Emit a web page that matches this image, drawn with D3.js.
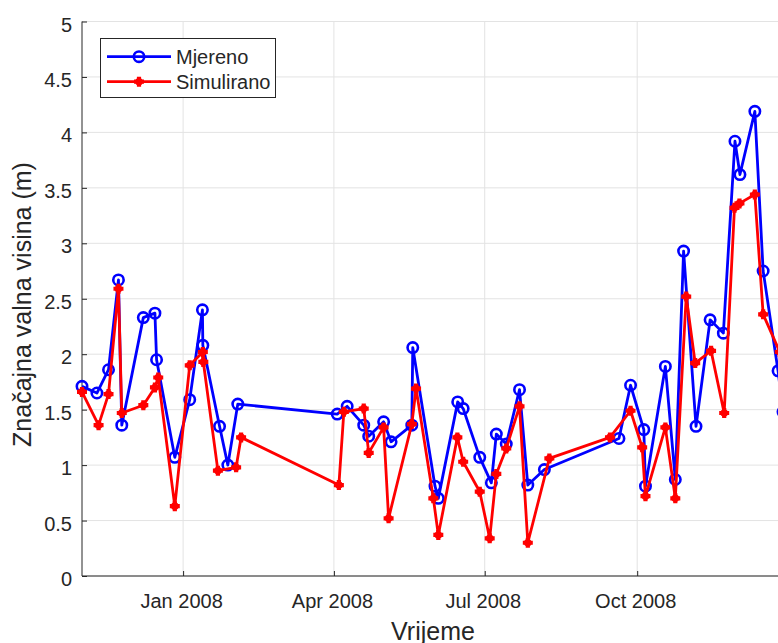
<!DOCTYPE html>
<html>
<head>
<meta charset="utf-8">
<script src="https://cdn.jsdelivr.net/npm/d3@7"></script>
<style>
  html, body { margin: 0; padding: 0; background: #fff; overflow: hidden; }
  text { font-family: "Liberation Sans", Arial, Helvetica, sans-serif; fill: #262626; }
</style>
</head>
<body>
<svg id="chart" width="778" height="643"></svg>
<script>
// ---- data ----
const measuredDates = [
  "2007-11-01","2007-11-10","2007-11-17","2007-11-23","2007-11-25","2007-12-08","2007-12-15","2007-12-16",
  "2007-12-27","2008-01-05","2008-01-12T16:00","2008-01-12T22:00","2008-01-23","2008-01-28","2008-02-03",
  "2008-04-03","2008-04-09","2008-04-19","2008-04-22","2008-05-01","2008-05-05T12:00","2008-05-18","2008-05-18T14:00",
  "2008-06-01","2008-06-03","2008-06-14T17:00","2008-06-18","2008-06-28","2008-07-05","2008-07-08","2008-07-14",
  "2008-07-22","2008-07-27","2008-08-06","2008-09-20","2008-09-27","2008-10-05","2008-10-06","2008-10-18",
  "2008-10-24","2008-10-29","2008-11-05T12:00","2008-11-14","2008-11-22","2008-11-29","2008-12-02","2008-12-11",
  "2008-12-16","2008-12-25","2008-12-28"
];
const measuredValues = [
  1.71,1.65,1.86,2.67,1.36,2.33,2.37,1.95,
  1.07,1.59,2.40,2.08,1.35,1.00,1.55,
  1.46,1.53,1.36,1.26,1.39,1.21,1.36,2.06,
  0.81,0.70,1.57,1.51,1.07,0.84,1.28,1.19,
  1.68,0.82,0.96,1.24,1.72,1.32,0.81,1.89,
  0.87,2.93,1.35,2.31,2.19,3.92,3.62,4.19,
  2.75,1.85,1.48
];
const simulatedDates = [
  "2007-11-01","2007-11-11","2007-11-17","2007-11-23","2007-11-25","2007-12-08","2007-12-15","2007-12-17",
  "2007-12-27","2008-01-05","2008-01-12T22:00","2008-01-13T05:00","2008-01-22","2008-02-02","2008-02-05",
  "2008-04-04","2008-04-07","2008-04-19","2008-04-22","2008-05-01","2008-05-04","2008-05-18","2008-05-20T14:00",
  "2008-05-31","2008-06-03","2008-06-14T12:00","2008-06-18","2008-06-28","2008-07-04","2008-07-08","2008-07-14",
  "2008-07-22","2008-07-27","2008-08-09","2008-09-14T14:00","2008-09-27","2008-10-04","2008-10-06","2008-10-18",
  "2008-10-24","2008-10-30T14:00","2008-11-05","2008-11-14T14:00","2008-11-22T12:00","2008-11-28T17:00","2008-12-01T17:00","2008-12-11",
  "2008-12-16","2008-12-26","2008-12-28"
];
const simulatedValues = [
  1.66,1.36,1.64,2.59,1.47,1.54,1.70,1.79,
  0.63,1.90,2.02,1.93,0.95,0.98,1.25,
  0.82,1.48,1.51,1.11,1.34,0.52,1.37,1.69,
  0.70,0.37,1.25,1.03,0.76,0.34,0.92,1.15,
  1.53,0.30,1.06,1.25,1.49,1.16,0.72,1.34,
  0.70,2.52,1.92,2.03,1.47,3.32,3.36,3.44,
  2.36,2.02,1.61
];
const xTickDates = ["2008-01-01","2008-04-01","2008-07-01","2008-10-01"];
const xTickLabels = ["Jan 2008","Apr 2008","Jul 2008","Oct 2008"];
const yTicks = [0,0.5,1,1.5,2,2.5,3,3.5,4,4.5,5];
const seriesNames = ["Mjereno","Simulirano"];
const xDomain = ["2007-11-01","2008-12-31"];
const yDomain = [0,5];

// ---- layout ----
const parse = s => new Date(s.length > 10 ? s + ":00" : s + "T00:00:00");
const svg = d3.select("#chart");
const plotL = 82, plotR = 788, plotT = 21.5, plotB = 576;
const FONT = '"Liberation Sans", Arial, sans-serif';

const x = d3.scaleTime().domain(xDomain.map(parse)).range([plotL, plotR]);
const y = d3.scaleLinear().domain(yDomain).range([plotB, plotT]);

svg.append("rect").attr("width", 778).attr("height", 643).attr("fill", "#fff");

// grid
const grid = svg.append("g");
grid.selectAll("line.gy").data(yTicks).join("line")
  .attr("x1", plotL).attr("x2", plotR)
  .attr("y1", d => y(d)).attr("y2", d => y(d))
  .attr("stroke", "#e3e3e3").attr("stroke-width", 1);
grid.selectAll("line.gx").data(xTickDates).join("line")
  .attr("x1", d => x(parse(d))).attr("x2", d => x(parse(d)))
  .attr("y1", plotT).attr("y2", plotB)
  .attr("stroke", "#e3e3e3").attr("stroke-width", 1);

// axes
const yAxis = d3.axisLeft(y).tickValues(yTicks).tickSize(-5).tickPadding(10).tickFormat(d => String(d));
const gy = svg.append("g").attr("transform", `translate(${plotL},0)`).call(yAxis);
gy.select(".domain").attr("stroke", "#262626").attr("d", `M0,${plotT}V${plotB}`);
gy.selectAll(".tick line").attr("stroke", "#262626");
gy.selectAll(".tick text").attr("font-size", 20).attr("fill", "#262626")
  .attr("font-family", FONT).attr("dy", "9.5px");

const xAxis = d3.axisBottom(x).tickValues(xTickDates.map(parse)).tickSize(-5).tickPadding(17.5)
  .tickFormat((d, i) => xTickLabels[i]);
const gx = svg.append("g").attr("transform", `translate(0,${plotB})`).call(xAxis);
gx.select(".domain").attr("stroke", "#262626").attr("d", `M${plotL},0H${plotR}`);
gx.selectAll(".tick line").attr("stroke", "#262626");
gx.selectAll(".tick text").attr("font-size", 20).attr("fill", "#262626")
  .attr("font-family", FONT).attr("dx", "-2px");

// axis labels
svg.append("text").attr("x", 433).attr("y", 639.5).attr("text-anchor", "middle")
  .attr("font-size", 25).text("Vrijeme");
svg.append("text").attr("transform", "translate(31,304.5) rotate(-90)").attr("text-anchor", "middle")
  .attr("font-size", 25).text("Značajna valna visina (m)");

// series
const measured = measuredDates.map((d, i) => ({ t: parse(d), v: measuredValues[i] }));
const simulated = simulatedDates.map((d, i) => ({ t: parse(d), v: simulatedValues[i] }));
const line = d3.line().x(d => x(d.t)).y(d => y(d.v));

const blue = "#0000ff", red = "#ff0000";
const crossPath = "M-5,0H5M0,-5V5";

function drawBlue(g, pts) {
  g.selectAll("circle").data(pts).join("circle")
    .attr("cx", d => d[0]).attr("cy", d => d[1]).attr("r", 5.2)
    .attr("fill", "none").attr("stroke", blue).attr("stroke-width", 2.6);
}
function drawRed(g, pts) {
  const m = g.selectAll("g").data(pts).join("g").attr("transform", d => `translate(${d[0]},${d[1]})`);
  m.append("path").attr("d", crossPath).attr("stroke", red).attr("stroke-width", 4.2).attr("fill", "none");
  m.append("circle").attr("r", 3.8).attr("fill", red);
}

svg.append("path").datum(measured).attr("d", line).attr("fill", "none")
  .attr("stroke", blue).attr("stroke-width", 2.8).attr("stroke-linejoin", "round");
drawBlue(svg.append("g"), measured.map(d => [x(d.t), y(d.v)]));

svg.append("path").datum(simulated).attr("d", line).attr("fill", "none")
  .attr("stroke", red).attr("stroke-width", 2.8).attr("stroke-linejoin", "round");
drawRed(svg.append("g"), simulated.map(d => [x(d.t), y(d.v)]));

// legend
const lg = svg.append("g");
lg.append("rect").attr("x", 100.5).attr("y", 38.5).attr("width", 175).attr("height", 59)
  .attr("fill", "#fff").attr("stroke", "#262626").attr("stroke-width", 1);
const rows = [56.7, 81.7];
lg.append("line").attr("x1", 107).attr("x2", 171).attr("y1", rows[0]).attr("y2", rows[0])
  .attr("stroke", blue).attr("stroke-width", 2.8);
drawBlue(lg.append("g"), [[139, rows[0]]]);
lg.append("line").attr("x1", 107).attr("x2", 171).attr("y1", rows[1]).attr("y2", rows[1])
  .attr("stroke", red).attr("stroke-width", 2.8);
drawRed(lg.append("g"), [[139, rows[1]]]);
lg.selectAll("text.leg").data(seriesNames).join("text")
  .attr("x", 176).attr("y", (d, i) => rows[i] + 7.3).attr("font-size", 20).attr("fill", "#000")
  .attr("font-family", FONT).text(d => d);
</script>
</body>
</html>
